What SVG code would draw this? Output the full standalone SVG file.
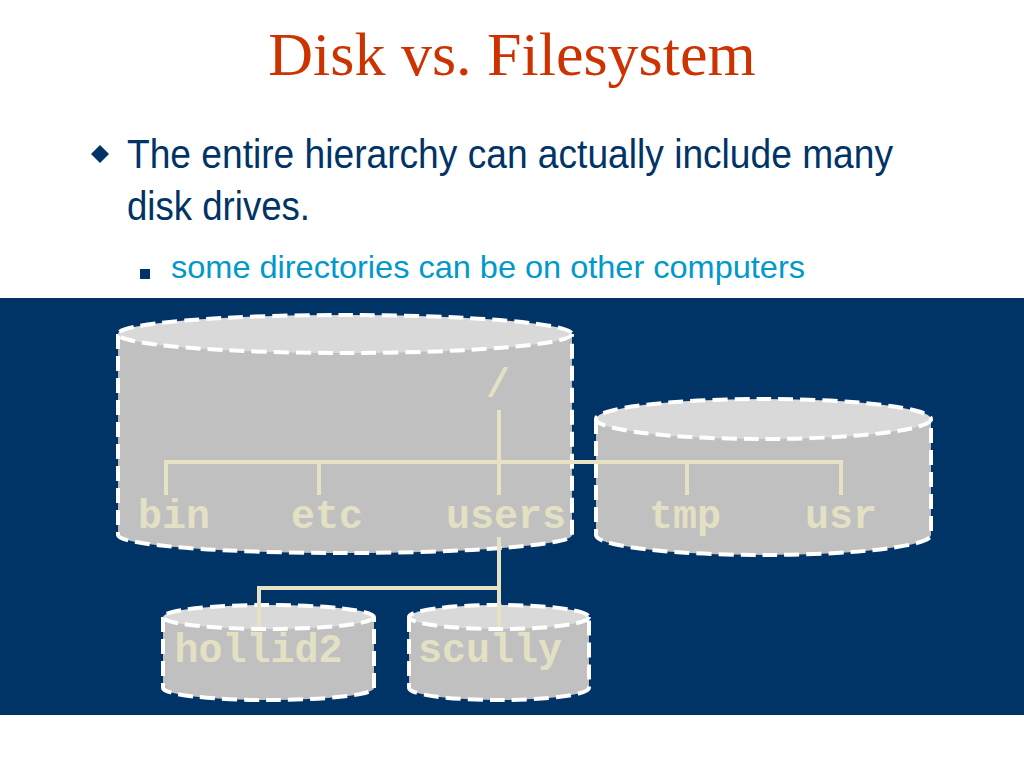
<svg xmlns="http://www.w3.org/2000/svg" width="1024" height="768" viewBox="0 0 1024 768">
<style>
.title{font-family:"Liberation Serif","Times New Roman",serif;font-size:62px;fill:#CC3300}
.b1{font-family:"Liberation Sans",Arial,sans-serif;font-size:40px;fill:#003366}
.b2{font-family:"Liberation Sans",Arial,sans-serif;font-size:32px;fill:#0099CC}
.disk{fill:#C0C0C0;stroke:#FFFFFF;stroke-width:4;stroke-dasharray:15 7}
.top{fill:#D9D9D9;stroke:#FFFFFF;stroke-width:4;stroke-dasharray:15 7}
.lbl{font-family:"Liberation Mono","Courier New",monospace;font-weight:bold;font-size:40px;fill:#E4E0C4;text-anchor:middle}
.tree{fill:none;stroke:#E6E2C3;stroke-width:4}
</style>
<rect x="0" y="0" width="1024" height="768" fill="#FFFFFF"/>
<text class="title" x="512" y="75" text-anchor="middle">Disk vs. Filesystem</text>
<polygon points="100,145 109,154 100,163 91,154" fill="#003366"/>
<text class="b1" x="127" y="168" textLength="766" lengthAdjust="spacingAndGlyphs">The entire hierarchy can actually include many</text>
<text class="b1" x="127" y="220" textLength="183" lengthAdjust="spacingAndGlyphs">disk drives.</text>
<rect x="140" y="269" width="10" height="10" fill="#003366"/>
<text class="b2" x="171" y="278" textLength="634" lengthAdjust="spacingAndGlyphs">some directories can be on other computers</text>
<rect x="0" y="298" width="1024" height="417" fill="#003366"/>

<g id="disk-root">
<path class="disk" d="M118,334 L118,535 A227,18 0 0 0 572,535 L572,334"/>
<ellipse class="top" cx="345" cy="334" rx="227" ry="19"/>
</g>
<g id="disk-second">
<path class="disk" d="M596,419 L596,535 A167.5,20 0 0 0 931,535 L931,419"/>
<ellipse class="top" cx="763.5" cy="419" rx="167.5" ry="20"/>
</g>
<g id="disk-hollid2">
<path class="disk" d="M163,617 L163,688 A105.5,12 0 0 0 374,688 L374,617"/>
<ellipse class="top" cx="268.5" cy="617" rx="105.5" ry="12"/>
</g>
<g id="disk-scully">
<path class="disk" d="M409,617 L409,688 A90,12 0 0 0 589,688 L589,617"/>
<ellipse class="top" cx="499" cy="617" rx="90" ry="12"/>
</g>

<g id="connectors">
<path class="tree" d="M499,410 L499,495"/>
<path class="tree" d="M166,495 L166,462 L841,462 L841,495"/>
<path class="tree" d="M319,462 L319,495"/>
<path class="tree" d="M687,462 L687,495"/>
<path class="tree" d="M499,537 L499,627"/>
<path class="tree" d="M259,627 L259,588 L499,588"/>
</g>

<g id="node-root"><text class="lbl" x="498" y="397">/</text></g>
<g id="node-bin"><text class="lbl" x="174" y="528">bin</text></g>
<g id="node-etc"><text class="lbl" x="327" y="528">etc</text></g>
<g id="node-users"><text class="lbl" x="506" y="528">users</text></g>
<g id="node-tmp"><text class="lbl" x="685" y="528">tmp</text></g>
<g id="node-usr"><text class="lbl" x="841" y="528">usr</text></g>
<g id="node-hollid2"><text class="lbl" x="258.5" y="662">hollid2</text></g>
<g id="node-scully"><text class="lbl" x="490" y="662">scully</text></g>
</svg>
